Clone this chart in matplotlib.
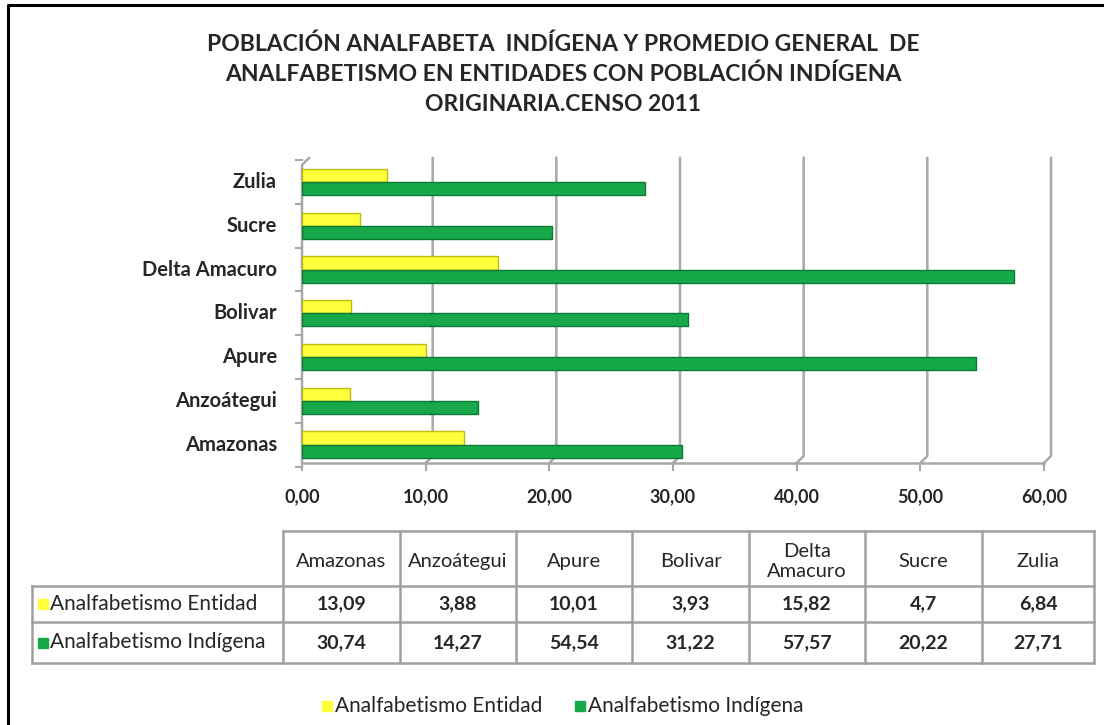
import matplotlib
matplotlib.use("Agg")
from matplotlib import pyplot as plt
from matplotlib.patches import Rectangle

plt.rcParams['font.family'] = ['Lato', 'DejaVu Sans']

# data
categories = ['Amazonas', 'Anzoátegui', 'Apure', 'Bolivar', 'Delta Amacuro', 'Sucre', 'Zulia']
header_labels = ['Amazonas', 'Anzoátegui', 'Apure', 'Bolivar', 'Delta\nAmacuro', 'Sucre', 'Zulia']
entidad = [13.09, 3.88, 10.01, 3.93, 15.82, 4.7, 6.84]
indigena = [30.74, 14.27, 54.54, 31.22, 57.57, 20.22, 27.71]
series_names = ['Analfabetismo Entidad', 'Analfabetismo Indígena']
xticks = [0, 10, 20, 30, 40, 50, 60]

title = ('POBLACIÓN ANALFABETA  INDÍGENA Y PROMEDIO GENERAL  DE\n'
         'ANALFABETISMO EN ENTIDADES CON POBLACIÓN INDÍGENA\n'
         'ORIGINARIA.CENSO 2011')

YELLOW, YEDGE = '#FFFF3C', '#BDBD10'
GREEN, GEDGE = '#17A84A', '#0C7A32'
GRID = '#A8A8A8'
TXT = '#262626'

W, H = 1104, 725
fig = plt.figure(figsize=(W / 100, H / 100), dpi=100)

# overlay in pixel coordinates (y down)
ov = fig.add_axes([0, 0, 1, 1], zorder=0)
ov.set_xlim(0, W)
ov.set_ylim(H, 0)
ov.axis('off')

# bar area
floor_y, top_y, x0, x1 = 463, 158, 302, 1044
ax = fig.add_axes([x0 / W, 1 - floor_y / H, (x1 - x0) / W, (floor_y - top_y) / H], zorder=2)
ax.patch.set_alpha(0)
ax.set_xlim(0, 60)
ax.set_ylim(-0.42, 6.55)
ax.axis('off')

h = 0.3
ypos = list(range(len(categories)))
ax.barh([y + h / 2 for y in ypos], entidad, height=h, color=YELLOW,
        edgecolor=YEDGE, linewidth=1)
ax.barh([y - h / 2 for y in ypos], indigena, height=h, color=GREEN,
        edgecolor=GEDGE, linewidth=1)


def to_px(x, y):
    d = ax.transData.transform((x, y))
    return ov.transData.inverted().transform(d)


dx, dy = 7, 7
ylo = ax.get_ylim()[0]
# floor, back wall gridlines, ticks
fx0, fy = to_px(0, ylo)
fx1, _ = to_px(60, ylo)
ov.plot([fx0, fx1], [fy, fy], color=GRID, lw=1.8, zorder=1)
for t in xticks:
    px, py = to_px(t, ylo)
    if t == 0:
        ov.plot([px, px, px + dx], [py, top_y + dy, top_y], color=GRID, lw=1.8, zorder=1)
    else:
        ov.plot([px, px + dx, px + dx], [py, py - dy, top_y], color=GRID, lw=1.8, zorder=1)
    ov.plot([px, px], [py, py + 7], color=GRID, lw=1.5, zorder=1)
    ov.text(px, 497, f'{t:.2f}'.replace('.', ','), ha='center', va='center',
            fontsize=13, fontweight='bold', color=TXT)

# category labels and left ticks
for i, c in enumerate(categories):
    px, py = to_px(0, i)
    ov.text(277, py, c, ha='right', va='center', fontsize=14.5,
            fontweight='bold', color=TXT)
for i in range(len(categories) + 1):
    px, py = to_px(0, i - 0.5)
    ov.plot([px - 6, px], [py, py], color=GRID, lw=1.5, zorder=1)

# title
ov.text(563, 74, title, ha='center', va='center', fontsize=16.5,
        fontweight='bold', color=TXT, linespacing=1.5)

# outer frame
ov.plot([8, 8, W + 5], [H + 5, 5, 5], color='black', lw=2.2, clip_on=False)

# data table
col_x = [32, 283, 400, 516, 632, 749, 865, 982, 1094]
row_y = [531, 586, 622, 663]
TC = '#A0A0A0'
ov.plot([col_x[1], col_x[-1]], [row_y[0], row_y[0]], color=TC, lw=1.8)
for y in row_y[1:]:
    ov.plot([col_x[0], col_x[-1]], [y, y], color=TC, lw=1.8)
ov.plot([col_x[0], col_x[0]], [row_y[1], row_y[-1]], color=TC, lw=1.8)
for x in col_x[1:]:
    ov.plot([x, x], [row_y[0], row_y[-1]], color=TC, lw=1.8)

for j, lab in enumerate(header_labels):
    cx = (col_x[j + 1] + col_x[j + 2]) / 2
    ov.text(cx, (row_y[0] + row_y[1]) / 2 + 3, lab, ha='center', va='center',
            fontsize=14.5, color=TXT, linespacing=1.2)
for r, (vals, col, name) in enumerate(zip([entidad, indigena], [YELLOW, GREEN], series_names)):
    cy = (row_y[r + 1] + row_y[r + 2]) / 2
    ov.add_patch(Rectangle((38, cy - 5), 10, 10, color=col))
    ov.text(50, cy, name, ha='left', va='center', fontsize=15, color=TXT)
    for j, v in enumerate(vals):
        cx = (col_x[j + 1] + col_x[j + 2]) / 2
        ov.text(cx, cy, f'{v:g}'.replace('.', ','), ha='center', va='center',
                fontsize=14, fontweight='bold', color=TXT)

# legend
for lx, col, name in [(322, YELLOW, series_names[0]), (575, GREEN, series_names[1])]:
    ov.add_patch(Rectangle((lx, 701), 10, 10, color=col))
    ov.text(lx + 13, 706, name, ha='left', va='center', fontsize=15, color=TXT)

fig.savefig('out.png', dpi=100)
